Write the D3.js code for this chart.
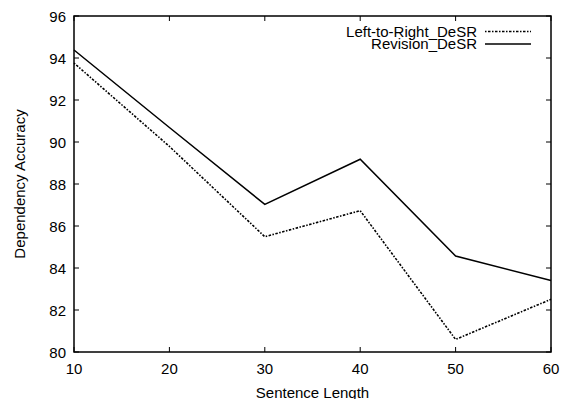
<!DOCTYPE html>
<html><head><meta charset="utf-8">
<script src="https://cdn.jsdelivr.net/npm/d3@7"></script>
<style>body{margin:0;background:#fff}svg{display:block}text{font-family:"Liberation Sans",Arial,sans-serif;fill:#000}</style>
</head><body>
<script>
const lengths = [10, 20, 30, 40, 50, 60];
const leftToRight = [93.76, 89.79, 85.49, 86.73, 80.6, 82.51];
const revision = [94.38, 90.69, 87.03, 89.18, 84.57, 83.4];
const xTicks = [10, 20, 30, 40, 50, 60];
const yTicks = [80, 82, 84, 86, 88, 90, 92, 94, 96];
const seriesNames = ["Left-to-Right_DeSR", "Revision_DeSR"];

const W = 563, H = 399;
const m = {l: 74, r: 12, t: 16, b: 47};
const svg = d3.select("body").append("svg").attr("width", W).attr("height", H);
const x = d3.scaleLinear().domain([10, 60]).range([m.l, W - m.r]);
const y = d3.scaleLinear().domain([80, 96]).range([H - m.b, m.t]);
const fs = 15, tl = 5;

// ticks (inward, mirrored)
const g = svg.append("g").attr("stroke", "#000").attr("stroke-width", 1);
xTicks.forEach(v => {
  g.append("line").attr("x1", x(v)).attr("x2", x(v)).attr("y1", y(80)).attr("y2", y(80) - tl);
  g.append("line").attr("x1", x(v)).attr("x2", x(v)).attr("y1", y(96)).attr("y2", y(96) + tl);
});
yTicks.forEach(v => {
  g.append("line").attr("x1", x(10)).attr("x2", x(10) + tl).attr("y1", y(v)).attr("y2", y(v));
  g.append("line").attr("x1", x(60)).attr("x2", x(60) - tl).attr("y1", y(v)).attr("y2", y(v));
});
xTicks.forEach(v => svg.append("text").attr("x", x(v)).attr("y", 373.5)
  .attr("text-anchor", "middle").attr("font-size", fs).text(v));
yTicks.forEach(v => svg.append("text").attr("x", 66).attr("y", y(v) + 5.5)
  .attr("text-anchor", "end").attr("font-size", fs).text(v));

svg.append("text").attr("x", (x(10) + x(60)) / 2).attr("y", 398)
  .attr("text-anchor", "middle").attr("font-size", fs).text("Sentence Length");
svg.append("text").attr("transform", `translate(25,${(y(80) + y(96)) / 2}) rotate(-90)`)
  .attr("text-anchor", "middle").attr("font-size", fs).text("Dependency Accuracy");

const line = d3.line().x((d, i) => x(lengths[i])).y(d => y(d));
const styles = [{dash: "1.5,1.5,2.5,1.5", w: 1.6}, {dash: null, w: 1.5}];
[leftToRight, revision].forEach((s, i) => {
  svg.append("path").datum(s).attr("d", line).attr("fill", "none")
    .attr("stroke", "#000").attr("stroke-width", styles[i].w)
    .attr("stroke-dasharray", styles[i].dash);
});

// legend
seriesNames.forEach((n, i) => {
  const ly = 31.5 + i * 12.5;
  svg.append("text").attr("x", 477).attr("y", ly + 5).attr("text-anchor", "end")
    .attr("font-size", fs).text(n);
  svg.append("line").attr("x1", 485).attr("x2", 531).attr("y1", ly).attr("y2", ly)
    .attr("stroke", "#000").attr("stroke-width", styles[i].w)
    .attr("stroke-dasharray", styles[i].dash);
});

// frame
svg.append("rect").attr("x", x(10)).attr("y", y(96)).attr("width", x(60) - x(10))
  .attr("height", y(80) - y(96)).attr("fill", "none").attr("stroke", "#000").attr("stroke-width", 1.5);
</script>
</body></html>
